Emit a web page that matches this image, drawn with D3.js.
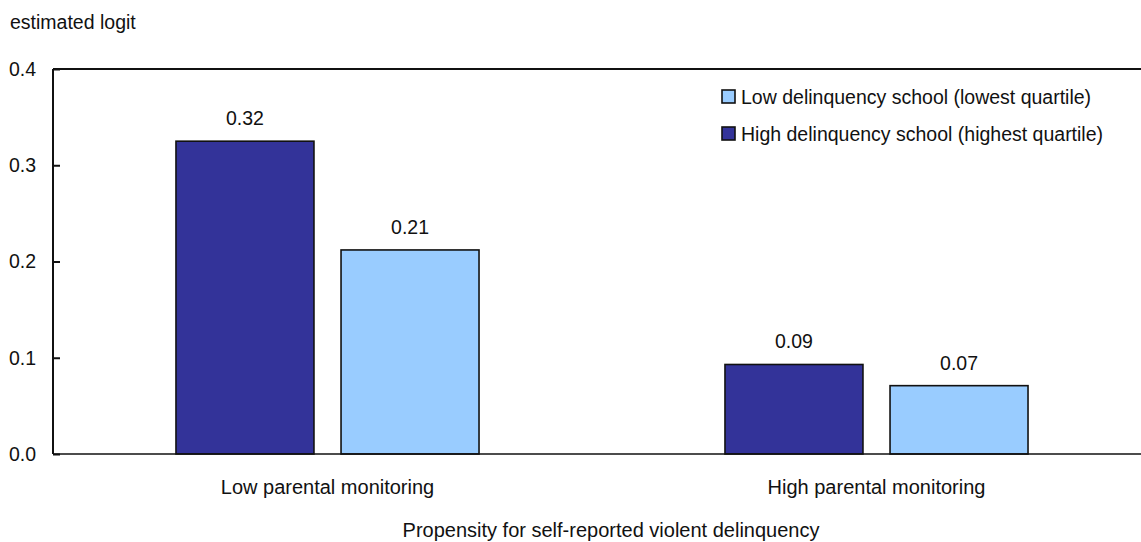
<!DOCTYPE html>
<html>
<head>
<meta charset="utf-8">
<script src="https://cdn.jsdelivr.net/npm/d3@7.9.0/dist/d3.min.js"></script>
<style>
  body { margin: 0; background: #fff; }
  svg { display: block; font-family: "Liberation Sans", Arial, Helvetica, sans-serif; }
</style>
</head>
<body>
<svg id="chart" width="1141" height="542"></svg>
<script>
// data
const categories = ['Low parental monitoring', 'High parental monitoring'];
const seriesNames = ['High delinquency school (highest quartile)', 'Low delinquency school (lowest quartile)'];
const highSchool = [0.325, 0.093];
const lowSchool = [0.212, 0.071];
const valueLabels = [['0.32', '0.21'], ['0.09', '0.07']];
const yTicks = [0, 0.1, 0.2, 0.3, 0.4];
const legendOrder = [1, 0]; // low first, then high
const colors = ['#333399', '#99ccff'];

const svg = d3.select('#chart');
const margin = { left: 53, top: 69, right: -10, bottom: 88 };
const width = 1141, height = 542;
const fs = 19.5;

let y = d3.scaleLinear().domain([0, 0.4]).range([454, 69]);
let x0 = d3.scaleBand()
    .domain(categories)
    .range([margin.left, width - margin.right])
    .paddingInner(0.448)
    .paddingOuter(0.224);
let x1 = d3.scaleBand()
    .domain([0, 1])
    .range([0, x0.bandwidth()])
    .paddingInner(0.164);

// bars
categories.forEach((cat, i) => {
    let vals = [highSchool[i], lowSchool[i]];
    vals.forEach((v, s) => {
        let bx = x0(cat) + x1(s);
        svg.append('rect')
            .attr('x', bx)
            .attr('y', y(v))
            .attr('width', x1.bandwidth())
            .attr('height', y(0) - y(v))
            .attr('fill', colors[s])
            .attr('stroke', '#111')
            .attr('stroke-width', 1.6);
        svg.append('text')
            .attr('x', bx + x1.bandwidth() / 2)
            .attr('y', y(v) - 16)
            .attr('text-anchor', 'middle')
            .attr('font-size', fs)
            .attr('fill', '#111')
            .text(valueLabels[i][s]);
    });
});

// baseline + top frame line
svg.append('line')
    .attr('x1', margin.left).attr('x2', width)
    .attr('y1', y(0)).attr('y2', y(0))
    .attr('stroke', '#111').attr('stroke-width', 1.6);
svg.append('line')
    .attr('x1', margin.left).attr('x2', width)
    .attr('y1', y(0.4)).attr('y2', y(0.4))
    .attr('stroke', '#111').attr('stroke-width', 2);

// y axis
let yAxis = d3.axisRight(y)
    .tickValues(yTicks)
    .tickSize(7)
    .tickFormat('');
let ag = svg.append('g')
    .attr('transform', `translate(${margin.left},0)`)
    .call(yAxis);
ag.select('.domain').attr('stroke', '#111').attr('stroke-width', 2).attr('d', `M0,${y(0)}V${y(0.4)}`);
ag.selectAll('.tick line').attr('stroke', '#111').attr('stroke-width', 2);

yTicks.forEach(t => {
    svg.append('text')
        .attr('x', 36)
        .attr('y', y(t))
        .attr('dy', '0.35em')
        .attr('text-anchor', 'end')
        .attr('font-size', fs)
        .attr('fill', '#111')
        .text(d3.format('.1f')(t));
});

// category labels
categories.forEach(cat => {
    svg.append('text')
        .attr('x', x0(cat) + x0.bandwidth() / 2)
        .attr('y', 494)
        .attr('text-anchor', 'middle')
        .attr('font-size', fs + 0.5)
        .attr('fill', '#111')
        .text(cat);
});

// axis titles
svg.append('text')
    .attr('x', 10).attr('y', 29)
    .attr('font-size', fs)
    .attr('fill', '#111')
    .text('estimated logit');
svg.append('text')
    .attr('x', 611).attr('y', 537)
    .attr('text-anchor', 'middle')
    .attr('font-size', fs + 0.5)
    .attr('fill', '#111')
    .text('Propensity for self-reported violent delinquency');

// legend
legendOrder.forEach((s, i) => {
    let ly = 97 + i * 37;
    svg.append('rect')
        .attr('x', 722).attr('y', ly - 7)
        .attr('width', 13).attr('height', 13)
        .attr('fill', colors[s])
        .attr('stroke', '#111').attr('stroke-width', 1.6);
    svg.append('text')
        .attr('x', 741).attr('y', ly)
        .attr('dy', '0.35em')
        .attr('font-size', fs)
        .attr('fill', '#111')
        .text(seriesNames[s]);
});
</script>
</body>
</html>
